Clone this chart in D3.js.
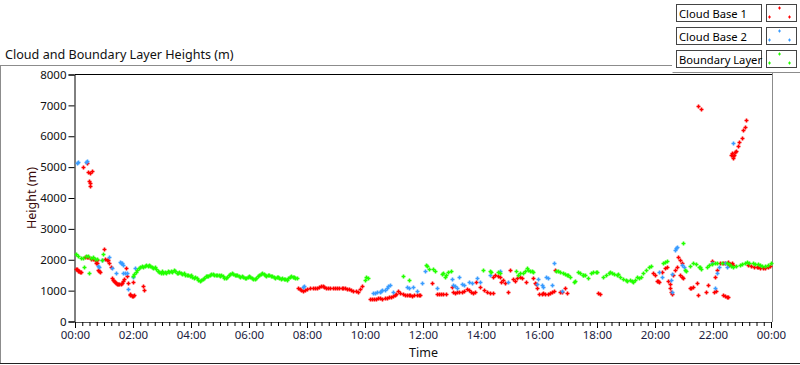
<!DOCTYPE html>
<html>
<head>
<meta charset="utf-8">
<script src="https://cdn.jsdelivr.net/npm/d3@7"></script>
<style>
  body { margin: 0; background: #fff; }
  svg { display: block; font-family: 'Noto Sans', 'Open Sans', sans-serif; }
</style>
</head>
<body>
<svg id="chart" width="800" height="365"></svg>
<script>
// values: [hour of day, height m]
const cloudBase1 = [
  [0.27, 4990], [0.4, 5140], [0.46, 4850], [0.5, 4800], [0.58, 4880], [0.49, 4555], [0.52, 4500], [0.52, 4385],
  [0.03, 1700], [0.06, 1690], [0.1, 1650], [0.14, 1620], [0.17, 1610], [0.2, 1600], [0.34, 2095], [0.4, 2080],
  [0.46, 2075], [0.55, 2040], [0.63, 2020], [0.7, 2000], [0.72, 1880], [0.75, 1990], [0.75, 1885], [0.8, 1665],
  [0.83, 1640], [0.86, 1610], [1.01, 2335], [1.03, 2010], [1.1, 2000], [1.15, 1990], [1.18, 1885], [1.23, 1755],
  [1.26, 1400], [1.3, 1350], [1.34, 1320], [1.38, 1290], [1.42, 1260], [1.46, 1230], [1.49, 1215], [1.53, 1220],
  [1.57, 1230], [1.61, 1235], [1.65, 1300], [1.69, 1365], [1.76, 1720], [1.78, 1470], [1.82, 1235], [1.88, 900],
  [1.9, 860], [1.95, 820], [1.99, 825], [2.03, 870], [2.01, 1290], [2.33, 1150], [2.38, 1020],
  [7.69, 1085], [7.75, 1040], [7.8, 1010], [7.86, 1000], [7.92, 1030], [8.0, 1060], [8.1, 1070], [8.2, 1080],
  [8.27, 1100], [8.33, 1095], [8.4, 1120], [8.48, 1140], [8.55, 1160], [8.6, 1120], [8.66, 1100], [8.72, 1080],
  [8.8, 1090], [8.9, 1085], [8.98, 1100], [9.05, 1080], [9.12, 1090], [9.2, 1100], [9.24, 1095], [9.3, 1080],
  [9.38, 1060], [9.45, 1040], [9.52, 1020], [9.6, 1000], [9.68, 980], [9.76, 965], [9.82, 1050], [9.88, 1150],
  [10.17, 720], [10.23, 730], [10.3, 740], [10.38, 735], [10.45, 750], [10.52, 750], [10.6, 740], [10.68, 760],
  [10.75, 770], [10.82, 790], [10.9, 800], [10.96, 820], [11.02, 850], [11.08, 900], [11.14, 1000], [11.2, 930],
  [11.3, 880], [11.38, 870], [11.45, 860], [11.52, 850], [11.55, 860], [11.62, 840], [11.7, 860], [11.78, 870],
  [11.85, 860], [11.9, 860], [12.3, 1235], [12.47, 890], [12.55, 900], [12.62, 880], [12.7, 890], [12.78, 900],
  [13.0, 1105], [13.05, 960], [13.1, 930], [13.18, 940], [13.25, 950], [13.33, 965], [13.4, 1000], [13.5, 1050],
  [13.6, 1020], [13.65, 960], [13.72, 920], [13.78, 950], [13.84, 1290], [13.95, 1125], [14.1, 1020], [14.2, 960],
  [14.3, 920], [14.4, 910], [14.4, 1430], [14.5, 1500], [14.58, 1480], [14.66, 1430], [14.7, 1290], [14.75, 1350],
  [14.82, 1250], [14.94, 965], [15.0, 1665], [15.1, 1365], [15.18, 1300], [15.25, 1400], [15.35, 1430], [15.4, 1420],
  [15.55, 1290], [15.8, 1420], [15.86, 1235], [15.9, 1205], [15.92, 1075], [16.0, 900], [16.1, 880], [16.15, 910],
  [16.22, 890], [16.3, 900], [16.38, 910], [16.45, 950], [16.5, 985], [16.55, 1665], [16.72, 945], [16.78, 945],
  [16.9, 1075], [16.95, 910], [18.05, 910], [18.1, 880],
  [19.94, 1560], [20.0, 1500], [20.06, 1320], [20.1, 1300], [20.15, 1290], [20.23, 1610], [20.34, 1720], [20.4, 1750],
  [20.46, 1320], [20.5, 1200], [20.52, 1075], [20.55, 950], [20.57, 890], [20.62, 1500], [20.69, 1665], [20.75, 1775],
  [20.8, 2095], [20.86, 1990], [20.92, 1885], [20.86, 1505], [20.92, 1450], [20.97, 1400], [21.2, 1075], [21.25, 1100],
  [21.3, 1120], [21.44, 1235], [21.49, 860], [21.76, 965], [21.84, 1180], [21.96, 1970], [22.02, 965], [22.07, 1450],
  [22.1, 1000], [22.15, 1665], [22.24, 1885], [22.33, 860], [22.35, 1900], [22.4, 830], [22.42, 1890], [22.47, 805],
  [22.5, 780], [22.53, 1915], [22.56, 1830], [22.6, 1860], [22.65, 1880], [22.7, 1840], [23.22, 1830], [23.3, 1800],
  [23.4, 1760], [23.5, 1775], [23.55, 1750], [23.62, 1720], [23.73, 1720], [23.8, 1740], [23.9, 1755], [23.95, 1800],
  [21.49, 6975], [21.6, 6870], [23.14, 6520], [23.1, 6305], [23.05, 6200], [22.99, 5930], [22.9, 5820], [22.85, 5700],
  [22.76, 5495], [22.63, 5390], [22.7, 5280], [22.72, 5400], [22.66, 5450], [22.68, 5350], [22.8, 5520]
];

const cloudBase2 = [
  [0.08, 5140], [0.1, 5180], [0.4, 5205], [0.38, 5170],
  [0.8, 1800], [0.84, 1755], [0.92, 1990], [1.18, 2075], [1.26, 1720], [1.41, 1580], [1.55, 1935], [1.59, 1905],
  [1.63, 1880], [1.67, 1830], [1.67, 1560], [1.74, 1560], [1.78, 1560], [1.84, 1040], [2.01, 1450], [2.07, 1720],
  [7.87, 1115], [7.9, 1140],
  [10.28, 920], [10.35, 930], [10.42, 950], [10.5, 965], [10.56, 990], [10.6, 1020], [10.69, 1020], [10.75, 1080],
  [10.8, 1160], [10.86, 1180], [10.95, 965], [11.44, 1125], [11.5, 1080], [11.67, 1125], [11.78, 985], [11.95, 1255],
  [12.07, 1645], [12.47, 1075], [13.0, 1365], [13.05, 1180], [13.1, 1150], [13.18, 1100], [13.25, 1430], [13.35, 1200],
  [13.4, 1180], [13.6, 1290], [13.7, 1260], [13.85, 1400], [13.97, 1290], [14.3, 1505], [14.66, 1645], [14.94, 1290],
  [15.92, 1215], [15.95, 1375], [16.1, 1180], [16.15, 1105], [16.24, 1430], [16.3, 1420], [16.44, 1180], [16.5, 1885],
  [16.78, 985],
  [20.13, 1610], [20.23, 1450], [20.54, 1340], [20.6, 1540], [20.57, 965], [20.7, 2330], [20.72, 2370], [20.75, 2400],
  [20.92, 1830], [21.0, 1755], [21.96, 1885], [22.07, 1075], [22.13, 1580], [22.2, 1775], [22.41, 1885], [22.47, 1775],
  [22.68, 5770]
];

const boundaryLayer = [
  [0.03, 2180], [0.1, 2120], [0.2, 2060], [0.29, 2045], [0.31, 1775], [0.38, 2120], [0.46, 2110], [0.49, 1580],
  [0.55, 2060], [0.63, 2075], [0.7, 2040], [0.75, 2030], [0.92, 1990], [0.98, 2175],
  [2.0, 1470], [2.05, 1550], [2.1, 1600], [2.15, 1660], [2.2, 1720], [2.25, 1780], [2.3, 1800], [2.35, 1760],
  [2.4, 1800], [2.45, 1820], [2.5, 1790], [2.55, 1830], [2.6, 1800], [2.65, 1760], [2.7, 1720], [2.75, 1760],
  [2.8, 1700], [2.85, 1650], [2.9, 1600], [2.95, 1580], [3.0, 1620], [3.05, 1560], [3.1, 1600], [3.15, 1570],
  [3.2, 1620], [3.25, 1590], [3.3, 1640], [3.35, 1600], [3.4, 1660], [3.45, 1620], [3.5, 1580], [3.55, 1560],
  [3.6, 1600], [3.65, 1570], [3.7, 1540], [3.75, 1560], [3.8, 1520], [3.85, 1490], [3.9, 1520], [3.95, 1480],
  [4.0, 1500], [4.05, 1450], [4.1, 1420], [4.15, 1440], [4.2, 1400], [4.25, 1350], [4.3, 1300], [4.35, 1330],
  [4.4, 1380], [4.45, 1420], [4.5, 1460], [4.55, 1480], [4.6, 1470], [4.65, 1500], [4.7, 1530], [4.75, 1550],
  [4.8, 1520], [4.85, 1490], [4.9, 1510], [4.95, 1500], [5.0, 1480], [5.05, 1500], [5.1, 1460], [5.15, 1420],
  [5.2, 1400], [5.25, 1440], [5.3, 1500], [5.35, 1540], [5.4, 1570], [5.45, 1530], [5.5, 1510], [5.55, 1490],
  [5.6, 1500], [5.65, 1470], [5.7, 1440], [5.75, 1460], [5.8, 1430], [5.85, 1400], [5.9, 1420], [5.95, 1450],
  [6.0, 1480], [6.05, 1440], [6.1, 1400], [6.15, 1380], [6.2, 1370], [6.25, 1420], [6.3, 1460], [6.35, 1500],
  [6.4, 1540], [6.45, 1560], [6.5, 1530], [6.55, 1500], [6.6, 1480], [6.65, 1510], [6.7, 1490], [6.75, 1460],
  [6.8, 1470], [6.85, 1450], [6.9, 1420], [6.95, 1440], [7.0, 1430], [7.05, 1410], [7.1, 1380], [7.15, 1400],
  [7.2, 1390], [7.25, 1370], [7.3, 1360], [7.35, 1400], [7.4, 1440], [7.45, 1460], [7.5, 1430], [7.55, 1450],
  [7.6, 1420], [7.65, 1400],
  [10.0, 1340], [10.05, 1450], [10.1, 1400],
  [11.3, 1470], [11.53, 1340], [12.1, 1830], [12.15, 1800], [12.2, 1700], [12.36, 1690], [12.4, 1650], [12.64, 1540],
  [12.7, 1560], [12.76, 1430], [12.8, 1500], [12.87, 1610], [12.95, 1640], [14.06, 1665], [14.31, 1645], [14.35, 1600],
  [14.6, 1610], [14.65, 1560], [15.2, 1645], [15.29, 1505], [15.35, 1560], [15.45, 1560], [15.5, 1650], [15.57, 1720],
  [15.62, 1680], [15.7, 1640], [15.75, 1635], [15.8, 1600], [16.6, 1645], [16.67, 1635], [16.72, 1610], [16.84, 1560],
  [16.9, 1550], [16.95, 1500], [17.0, 1490], [17.07, 1450], [17.2, 1290], [17.24, 1300], [17.36, 1590], [17.42, 1560],
  [17.5, 1510], [17.53, 1505], [17.6, 1520], [17.7, 1420], [17.8, 1560], [17.87, 1590], [17.95, 1600], [18.0, 1610],
  [18.2, 1450], [18.3, 1520], [18.4, 1560], [18.45, 1590], [18.5, 1580], [18.6, 1540], [18.68, 1505], [18.73, 1540],
  [18.8, 1450], [18.9, 1375], [19.0, 1340], [19.05, 1320], [19.14, 1340], [19.2, 1300], [19.25, 1290], [19.3, 1330],
  [19.37, 1450], [19.45, 1420], [19.5, 1450], [19.6, 1560], [19.7, 1665], [19.8, 1750], [19.85, 1795],
  [20.28, 1885], [20.35, 1930], [20.4, 1970], [20.98, 2530], [21.03, 1665], [21.08, 1620], [21.2, 1800], [21.32, 1885],
  [21.4, 1850], [21.5, 1780], [21.55, 1755], [21.6, 1700], [21.78, 1775], [21.85, 1820], [21.95, 1860], [22.07, 1885],
  [22.15, 1880], [22.3, 1900], [22.47, 1885], [22.55, 1850], [22.62, 1800], [22.7, 1775], [22.8, 1800], [22.93, 1830],
  [23.0, 1870], [23.1, 1900], [23.16, 1935], [23.25, 1900], [23.39, 1885], [23.45, 1860], [23.55, 1850], [23.62, 1830],
  [23.7, 1800], [23.8, 1790], [23.9, 1840], [23.99, 1885]
];

const yTicks = [0, 1000, 2000, 3000, 4000, 5000, 6000, 7000, 8000];
const xTickHours = [0, 2, 4, 6, 8, 10, 12, 14, 16, 18, 20, 22, 24];
const legendNames = ['Cloud Base 1', 'Cloud Base 2', 'Boundary Layer'];
const legendColors = ['#ff0000', '#3a9cff', '#22ff00'];

const svg = d3.select('#chart');
const margin = { left: 75, right: 772, top: 74.5, bottom: 321.5 };

const x = d3.scaleLinear().domain([0, 24]).range([margin.left, margin.right - 1]);
const y = d3.scaleLinear().domain([0, 8000]).range([margin.bottom, margin.top]);

// panel frame lines
svg.append('line').attr('x1', 0).attr('x2', 672).attr('y1', 65.5).attr('y2', 65.5).attr('stroke', '#8c8c8c');
svg.append('line').attr('x1', 0.5).attr('x2', 0.5).attr('y1', 65.5).attr('y2', 364).attr('stroke', '#8c8c8c');
svg.append('line').attr('x1', 0).attr('x2', 800).attr('y1', 363.5).attr('y2', 363.5).attr('stroke', '#222');
svg.append('line').attr('x1', 672.5).attr('x2', 800).attr('y1', 72.5).attr('y2', 72.5).attr('stroke', '#8c8c8c');

svg.append('text')
  .attr('x', 5).attr('y', 59)
  .attr('font-size', 12.6).attr('fill', '#111')
  .text('Cloud and Boundary Layer Heights (m)');

// plot area border
svg.append('line').attr('x1', margin.left).attr('x2', margin.right).attr('y1', 74.5).attr('y2', 74.5).attr('stroke', '#000');
svg.append('line').attr('x1', margin.right + 0.5).attr('x2', margin.right + 0.5).attr('y1', 72).attr('y2', 322).attr('stroke', '#8c8c8c');

// axes
const yAxis = svg.append('g')
  .attr('transform', `translate(${margin.left - 0.5},0)`)
  .call(d3.axisLeft(y).tickValues(yTicks).tickSize(6).tickPadding(2).tickFormat(d3.format('d')));
yAxis.selectAll('text').attr('font-size', 11.5).attr('fill', '#111').attr('font-family', "'Noto Sans', sans-serif");
yAxis.select('.domain').attr('stroke', '#000');

const fmtHour = (h) => String(h % 24).padStart(2, '0') + ':00';
const xMinor = svg.append('g')
  .attr('transform', `translate(0,${margin.bottom + 0.5})`)
  .call(d3.axisBottom(x).tickValues(d3.range(0, 24.01, 0.25)).tickSize(4).tickFormat(''));
xMinor.select('.domain').attr('stroke', '#555');

const xAxis = svg.append('g')
  .attr('transform', `translate(0,${margin.bottom + 0.5})`)
  .call(d3.axisBottom(x).tickValues(xTickHours).tickSize(6).tickPadding(3).tickFormat(fmtHour));
xAxis.select('.domain').remove();
xAxis.selectAll('text').attr('font-size', 11.5).attr('fill', '#1c1c40').attr('font-family', "'Noto Sans', sans-serif");

svg.append('text')
  .attr('x', (margin.left + margin.right) / 2).attr('y', 357)
  .attr('text-anchor', 'middle').attr('font-size', 12.5).attr('fill', '#111')
  .text('Time');

svg.append('text')
  .attr('transform', `translate(36,${(margin.top + margin.bottom) / 2}) rotate(-90)`)
  .attr('text-anchor', 'middle').attr('font-size', 12.5).attr('fill', '#3a0a0a')
  .text('Height (m)');

// markers
const cross = 'M-2,0H2M0,-2V2';
const series = [cloudBase1, cloudBase2, boundaryLayer];
series.forEach((data, i) => {
  svg.append('g')
    .selectAll('path')
    .data(data)
    .enter()
    .append('path')
    .attr('d', cross)
    .attr('transform', (d) => `translate(${Math.round(x(d[0])) + 0.5},${Math.round(y(d[1])) + 0.5})`)
    .attr('stroke', legendColors[i])
    .attr('stroke-width', 1.6)
    .attr('fill', 'none');
});

// legend
const legend = svg.append('g');
legendNames.forEach((name, i) => {
  const top = 4.5 + i * 23;
  legend.append('rect')
    .attr('x', 676.5).attr('y', top).attr('width', 85).attr('height', 17)
    .attr('fill', '#fff').attr('stroke', '#444');
  legend.append('text')
    .attr('x', 679).attr('y', top + 13)
    .attr('font-size', 11.2).attr('fill', '#000')
    .text(name);
  legend.append('rect')
    .attr('x', 766.5).attr('y', top).attr('width', 30).attr('height', 17)
    .attr('fill', '#fff').attr('stroke', '#444');
  [[779, top + 3], [769, top + 12], [789, top + 12]].forEach((p) => {
    legend.append('path')
      .attr('d', 'M-1.5,0H1.5M0,-1.5V1.5')
      .attr('transform', `translate(${p[0] + 0.5},${p[1] + 0.5})`)
      .attr('stroke', legendColors[i]).attr('stroke-width', 1);
  });
});
</script>
</body>
</html>
